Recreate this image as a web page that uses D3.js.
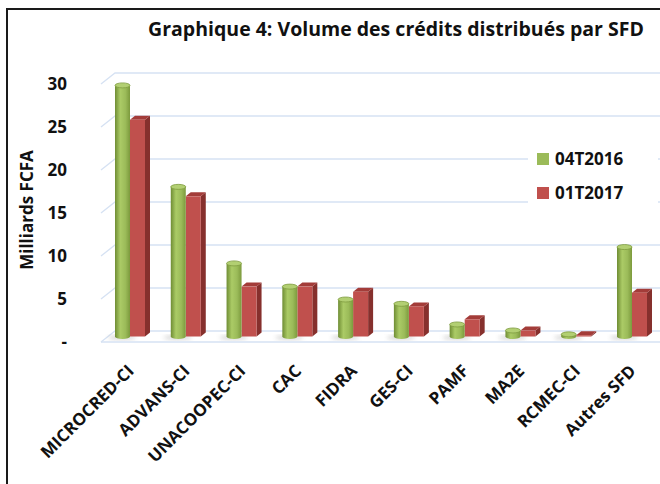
<!DOCTYPE html>
<html>
<head>
<meta charset="utf-8">
<script src="https://cdn.jsdelivr.net/npm/d3@7"></script>
<style>
	body { margin: 0; background: #fff; }
	text { font-family: "Open Sans", Lato, sans-serif; font-weight: bold; fill: #111; }
</style>
</head>
<body>
<div id="chart"></div>
<script>
// values (billions FCFA)
const categories = ["MICROCRED-CI", "ADVANS-CI", "UNACOOPEC-CI", "CAC", "FIDRA", "GES-CI", "PAMF", "MA2E", "RCMEC-CI", "Autres SFD"];
const t2016 = [29.2, 17.4, 8.5, 5.8, 4.3, 3.8, 1.4, 0.7, 0.25, 10.4];
const t2017 = [25.2, 16.3, 5.8, 5.8, 5.2, 3.5, 2.0, 0.7, 0.15, 5.1];
const series = ["04T2016", "01T2017"];
const yTicks = [0, 5, 10, 15, 20, 25, 30];

const width = 660, height = 484;

const svg = d3.select("#chart").append("svg")
	.attr("width", width)
	.attr("height", height);

const defs = svg.append("defs");
const gGreen = defs.append("linearGradient").attr("id", "cyl");
gGreen.append("stop").attr("offset", "0%").attr("stop-color", "#6f8d34");
gGreen.append("stop").attr("offset", "35%").attr("stop-color", "#abcb66");
gGreen.append("stop").attr("offset", "70%").attr("stop-color", "#9bbb59");
gGreen.append("stop").attr("offset", "100%").attr("stop-color", "#7c9a3d");
defs.append("filter").attr("id", "blur")
	.append("feGaussianBlur").attr("stdDeviation", 2);

// frame (runs off the right and bottom of the picture)
svg.append("rect")
	.attr("x", 7).attr("y", 9)
	.attr("width", 700).attr("height", 500)
	.attr("fill", "none").attr("stroke", "#1a1a1a").attr("stroke-width", 2);

svg.append("text")
	.attr("x", 396).attr("y", 36)
	.attr("text-anchor", "middle")
	.style("font-size", "19.5px")
	.text("Graphique 4: Volume des crédits distribués par SFD");

// depth of the 3D box
const depth = { dx: 14, dy: -11 };
const y = d3.scaleLinear().domain([0, 30]).range([342, 84]);   // front edge
const x = d3.scalePoint().domain(categories).range([135, 637]);
const xLeft = 101, xRight = 680;

// gridlines: side wall diagonal + back wall
const grid = svg.append("g").attr("stroke", "#d6e2f3").attr("stroke-width", 1.3).attr("fill", "none");
yTicks.forEach((t) => {
	const yy = y(t);
	grid.append("path")
		.attr("d", `M${xLeft},${yy}L${xLeft + depth.dx},${yy + depth.dy}L${xRight},${yy + depth.dy}`);
});
// floor front edge
grid.append("path").attr("d", `M${xLeft},${y(0)}L${xRight},${y(0)}`);

// y axis labels
svg.append("g").selectAll("text")
	.data(yTicks)
	.join("text")
	.attr("x", 67)
	.attr("y", (d) => y(d))
	.attr("dy", "0.36em")
	.attr("text-anchor", "end")
	.style("font-size", "17px")
	.text((d) => (d === 0 ? "-" : d));

svg.append("text")
	.attr("transform", "translate(33,210) rotate(-90)")
	.attr("text-anchor", "middle")
	.style("font-size", "17px")
	.text("Milliards FCFA");

// bars sit half way into the floor
const mid = { dx: depth.dx / 2, dy: depth.dy / 2 };
const barW = 15;
const yb = (v) => y(v) + mid.dy;

const groups = svg.append("g").selectAll("g")
	.data(categories)
	.join("g")
	.attr("transform", (d) => `translate(${x(d) - mid.dx + 2},0)`);

// floor shadows
groups.append("ellipse")
	.attr("cx", -8).attr("cy", yb(0) + 1)
	.attr("rx", 14).attr("ry", 2.5)
	.attr("fill", "#bdbdbd").attr("opacity", 0.6)
	.attr("filter", "url(#blur)");

// red boxes (01T2017)
const bd = { dx: 5, dy: -4 };
groups.each(function (d, i) {
	const g = d3.select(this);
	const top = yb(t2017[i]), bot = yb(0);
	const x0 = 0, x1 = barW;
	g.append("path")
		.attr("d", `M${x1},${top}L${x1 + bd.dx},${top + bd.dy}L${x1 + bd.dx},${bot + bd.dy}L${x1},${bot}Z`)
		.attr("fill", "#86302d");
	g.append("path")
		.attr("d", `M${x0},${top}L${x0 + bd.dx},${top + bd.dy}L${x1 + bd.dx},${top + bd.dy}L${x1},${top}Z`)
		.attr("fill", "#a33c39");
	g.append("rect")
		.attr("x", x0).attr("y", top)
		.attr("width", barW).attr("height", bot - top)
		.attr("fill", "#c0504d");
});

// green cylinders (04T2016)
groups.each(function (d, i) {
	const g = d3.select(this);
	const top = yb(t2016[i]), bot = yb(0);
	const cx = -barW / 2, r = barW / 2, ry = 2.5;
	g.append("path")
		.attr("d", `M${cx - r},${top}L${cx - r},${bot}A${r},${ry} 0 0 0 ${cx + r},${bot}L${cx + r},${top}Z`)
		.attr("fill", "url(#cyl)");
	g.append("ellipse")
		.attr("cx", cx).attr("cy", top)
		.attr("rx", r).attr("ry", ry)
		.attr("fill", "#b2cf72").attr("stroke", "#7f9c40").attr("stroke-width", 0.8);
});

// category labels
svg.append("g").selectAll("text")
	.data(categories)
	.join("text")
	.attr("transform", (d) => `translate(${x(d)},372) rotate(-45)`)
	.attr("text-anchor", "end")
	.style("font-size", "17px")
	.text((d) => d);

// legend
const colors = ["#9bbb59", "#c0504d"];
svg.append("rect").attr("x", 528).attr("y", 146).attr("width", 130).attr("height", 60).attr("fill", "#fff");
const legend = svg.append("g").selectAll("g")
	.data(series)
	.join("g")
	.attr("transform", (d, i) => `translate(537,${159 + i * 34})`);
legend.append("rect")
	.attr("x", 0).attr("y", -6).attr("width", 12).attr("height", 12)
	.attr("fill", (d, i) => colors[i]);
legend.append("text")
	.attr("x", 18).attr("dy", "0.36em")
	.style("font-size", "17px")
	.text((d) => d);
</script>
</body>
</html>
